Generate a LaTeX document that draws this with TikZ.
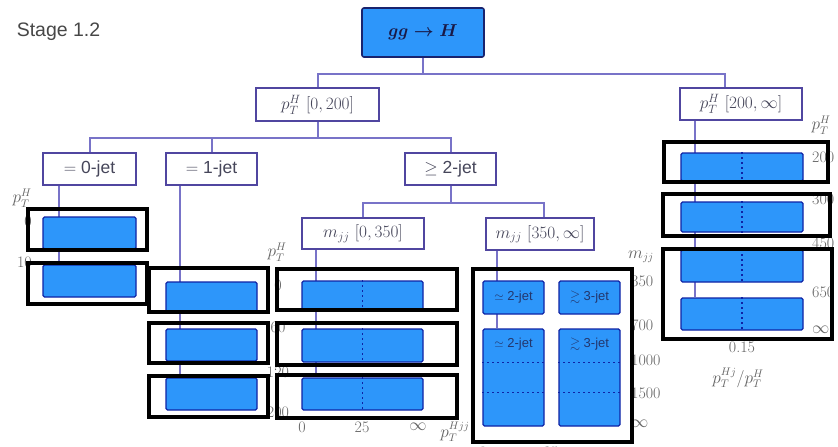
\documentclass[tikz,border=0pt]{standalone}
\usepackage{amssymb}
\usepackage{fontspec}
\setsansfont{Liberation Sans}
\usetikzlibrary{backgrounds}
\definecolor{binblue}{RGB}{45,150,250}
\definecolor{bindark}{RGB}{15,35,165}
\definecolor{topedge}{RGB}{25,35,110}
\definecolor{boxedge}{RGB}{80,70,160}
\definecolor{linkc}{RGB}{120,115,200}
\definecolor{labc}{RGB}{100,100,100}
\definecolor{txt}{RGB}{70,70,90}
\definecolor{txtdark}{RGB}{25,25,70}
\definecolor{bintxt}{RGB}{35,55,110}
\begin{document}
\begin{tikzpicture}[x=1pt,y=1pt,
  catbox/.style={draw=boxedge,line width=1.7pt,fill=white,inner sep=0pt,text=txt,font=\fontsize{17.5}{20}\selectfont},
  topbox/.style={draw=topedge,line width=1.6pt,fill=binblue,rounded corners=2pt,inner sep=0pt,text=txtdark,font=\fontsize{18.5}{22}\selectfont\boldmath},
  bin/.style={draw=bindark,line width=1.3pt,fill=binblue,rounded corners=1.5pt,inner sep=0pt},
  bintext/.style={text=bintxt,font=\sffamily\fontsize{13}{15}\selectfont,inner sep=0pt},
  link/.style={draw=linkc,line width=2pt},
  cutline/.style={draw=bindark,line width=1.3pt,dash pattern=on 2pt off 3pt},
  lab/.style={text=labc,font=\fontsize{16}{19}\selectfont,inner sep=0pt},
  hl/.style={draw=black,line width=4pt}
]
\useasboundingbox (0,0) rectangle (838,-447);

\node[text=black!72,font=\sffamily\fontsize{19.5}{23}\selectfont,inner sep=0pt] (stage) at (58.5,-32) {Stage 1.2};

% category boxes
\node[topbox,minimum width=122,minimum height=49] (gg) at (423,-32.5) {$gg\to H$};
\node[catbox,minimum width=123,minimum height=33] (pl) at (317.5,-104.5) {$p_T^H$ $[0,200]$};
\node[catbox,minimum width=122,minimum height=32] (ph) at (741,-104) {$p_T^H$ $[200,\infty]$};
\node[catbox,minimum width=93,minimum height=32] (j0) at (89.5,-169) {\sffamily $=$ 0-jet};
\node[catbox,minimum width=91,minimum height=32] (j1) at (211.5,-169) {\sffamily $=$ 1-jet};
\node[catbox,minimum width=91,minimum height=32] (j2) at (450.5,-169) {\sffamily $\geq$ 2-jet};
\node[catbox,minimum width=122,minimum height=31] (ml) at (363,-233.5) {$m_{jj}$ $[0,350]$};
\node[catbox,minimum width=108,minimum height=32] (mh) at (540,-234) {$m_{jj}$ $[350,\infty]$};

% bins
\node[bin,minimum width=93,minimum height=32] (z1) at (89.5,-233) {};
\node[bin,minimum width=93,minimum height=32] (z2) at (89.5,-281) {};
\node[bin,minimum width=91,minimum height=31] (o1) at (211.5,-297.5) {};
\node[bin,minimum width=91,minimum height=32] (o2) at (211.5,-345) {};
\node[bin,minimum width=91,minimum height=32] (o3) at (211.5,-394) {};
\node[bin,minimum width=121,minimum height=30] (t1) at (362.5,-296) {};
\node[bin,minimum width=121,minimum height=33] (t2) at (362.5,-345.5) {};
\node[bin,minimum width=121,minimum height=32] (t3) at (362.5,-394) {};
\node[bin,minimum width=61,minimum height=33] (v1) at (513.5,-297.5) {};
\node[bin,minimum width=61,minimum height=33] (v2) at (589.5,-297.5) {};
\node[bin,minimum width=61,minimum height=97] (v3) at (513.5,-377.5) {};
\node[bin,minimum width=61,minimum height=97] (v4) at (589.5,-377.5) {};
\node[bin,minimum width=122,minimum height=28] (r1) at (742,-167) {};
\node[bin,minimum width=122,minimum height=30] (r2) at (742,-217) {};
\node[bin,minimum width=122,minimum height=32] (r3) at (742,-266) {};
\node[bin,minimum width=122,minimum height=32] (r4) at (742,-314) {};

% bin texts
\node[bintext] (v1t) at (v1.center) {$\simeq$ 2-jet};
\node[bintext] (v2t) at (v2.center) {$\gtrsim$ 3-jet};
\node[bintext] (v3t) at ([yshift=-16pt]v3.north) {$\simeq$ 2-jet};
\node[bintext] (v4t) at ([yshift=-16pt]v4.north) {$\gtrsim$ 3-jet};

% dotted / dashed bin splits
\foreach \b in {t1,t2,t3,r1,r2,r3,r4}{
  \draw[cutline] (\b.north) -- (\b.south);
}
\foreach \b in {v3,v4}{
  \draw[cutline] ([yshift=-34pt]\b.north west) -- ([yshift=-34pt]\b.north east);
  \draw[cutline] ([yshift=-64pt]\b.north west) -- ([yshift=-64pt]\b.north east);
}

% connectors
\coordinate (j0d) at ([xshift=17pt]j0.south west);
\coordinate (j1d) at ([xshift=15pt]j1.south west);
\coordinate (mld) at ([xshift=15pt]ml.south west);
\coordinate (mhd) at ([xshift=12pt]mh.south west);
\coordinate (phd) at ([xshift=16pt]ph.south west);
\coordinate (phu) at ([xshift=46pt]ph.north west);
\coordinate (mhu) at ([xshift=59pt]mh.north west);
\begin{scope}[on background layer]
\fill[white] (0,0) rectangle (838,-447);
\draw[link] (gg.south) -- ++(0,-16) -| (pl.north);
\draw[link] (gg.south) -- ++(0,-16) -| (phu);
\draw[link] (pl.south) -- ++(0,-16) -| (j0.north);
\draw[link] (pl.south) -- ++(0,-16) -| (j1.north);
\draw[link] (pl.south) -- ++(0,-16) -| (j2.north);
\draw[link] (j2.south) -- ++(0,-17) -| (ml.north);
\draw[link] (j2.south) -- ++(0,-17) -| (mhu);
\draw[link] (j0d) -- (j0d |- z2.north);
\draw[link] (j1d) -- (j1d |- o3.north);
\draw[link] (mld) -- (mld |- t3.north);
\draw[link] (mhd) -- (mhd |- v3.north);
\draw[link] (phd) -- (phd |- r4.north);
\end{scope}

% axis labels
\node[lab] (a0p) at (22,-198) {$p_T^H$};
\node[lab,anchor=east] (a00) at (32,-221) {0};
\node[lab,anchor=east] (a01) at (32,-262) {10};

\node[lab] (a1p) at (277,-252) {$p_T^H$};
\node[lab] (a10) at (278,-285) {0};
\node[lab] (a11) at (278,-327) {60};
\node[lab] (a12) at (278,-372) {120};
\node[lab] (a13) at (278,-412) {200};

\node[lab] (b0) at (302,-427) {0};
\node[lab] (b1) at (362,-427) {25};
\node[lab] (b2) at (418,-427) {$\infty$};
\node[lab] (bp) at (455,-432) {$p_T^{Hjj}$};

\node[lab] (vm) at (641,-257) {$m_{jj}$};
\node[lab,anchor=west] (v0) at (631,-281) {350};
\node[lab,anchor=west] (v1l) at (631,-325) {700};
\node[lab,anchor=west] (v2l) at (631,-360) {1000};
\node[lab,anchor=west] (v3l) at (631,-393) {1500};
\node[lab,anchor=west] (v4l) at (631,-424) {$\infty$};
\node[lab] (c0) at (483,-452) {0};
\node[lab] (c1) at (551,-452) {25};
\node[lab] (c2) at (620,-452) {$\infty$};

\node[lab] (rp) at (821,-125) {$p_T^H$};
\node[lab,anchor=west] (r0l) at (812,-157) {200};
\node[lab,anchor=west] (r1l) at (812,-199) {300};
\node[lab,anchor=west] (r2l) at (812,-243) {450};
\node[lab,anchor=west] (r3l) at (812,-292) {650};
\node[lab,anchor=west] (r4l) at (812,-330) {$\infty$};
\node[lab] (rx) at (742,-347) {0.15};
\node[lab] (rxl) at (738,-378) {$p_T^{Hj}/p_T^H$};

% highlight rectangles
\draw[hl] (28,-209) rectangle (147,-250);
\draw[hl] (28,-263) rectangle (147,-304);
\draw[hl] (149,-268) rectangle (268,-312);
\draw[hl] (149,-323) rectangle (268,-363);
\draw[hl] (149,-376) rectangle (268,-417);
\draw[hl] (277,-269) rectangle (457,-310);
\draw[hl] (277,-323) rectangle (457,-365);
\draw[hl] (277,-375) rectangle (457,-418);
\draw[hl] (473,-269) rectangle (632,-442);
\draw[hl] (664,-142) rectangle (828,-182);
\draw[hl] (663,-194) rectangle (830,-236);
\draw[hl] (663,-249) rectangle (832,-339);
\end{tikzpicture}
\end{document}
